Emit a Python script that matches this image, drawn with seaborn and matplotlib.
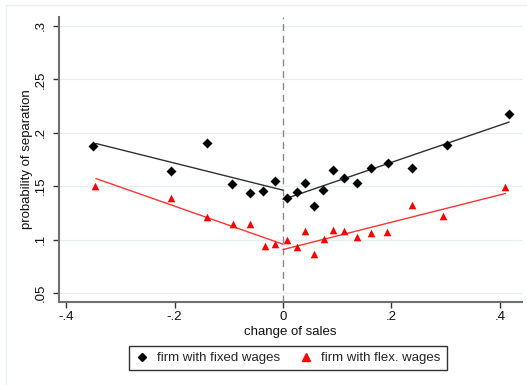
import numpy as np
import pandas as pd
import matplotlib
matplotlib.use("Agg")
import matplotlib.pyplot as plt
import seaborn as sns
from matplotlib.lines import Line2D

# ---- data ----
fixed_x = [-0.350, -0.207, -0.140, -0.094, -0.061, -0.036, -0.014, 0.007, 0.025, 0.041,
           0.058, 0.074, 0.093, 0.1125, 0.136, 0.163, 0.194, 0.237, 0.303, 0.417]
fixed_y = [0.188, 0.1643, 0.1905, 0.1516, 0.1437, 0.1453, 0.1553, 0.139, 0.1444, 0.1531,
           0.1313, 0.1469, 0.1656, 0.1575, 0.153, 0.1666, 0.172, 0.1666, 0.189, 0.2176]
flex_x = [-0.346, -0.207, -0.140, -0.092, -0.060, -0.034, -0.014, 0.007, 0.025, 0.041,
          0.058, 0.076, 0.093, 0.1125, 0.136, 0.162, 0.192, 0.237, 0.295, 0.410]
flex_y = [0.1503, 0.139, 0.1213, 0.1147, 0.115, 0.0941, 0.0963, 0.0994, 0.0935, 0.1079,
          0.0863, 0.101, 0.109, 0.1082, 0.1025, 0.1066, 0.1069, 0.132, 0.1222, 0.1494]

# fitted line segments (left and right of zero)
fixed_fit_left_x = [-0.345, 0.0]
fixed_fit_left_y = [0.190, 0.1463]
fixed_fit_right_x = [0.0, 0.417]
fixed_fit_right_y = [0.1375, 0.2101]
flex_fit_left_x = [-0.345, 0.0]
flex_fit_left_y = [0.1572, 0.0957]
flex_fit_right_x = [0.0, 0.410]
flex_fit_right_y = [0.0907, 0.1432]

x_ticks = [-0.4, -0.2, 0.0, 0.2, 0.4]
x_labels = ["-.4", "-.2", "0", ".2", ".4"]
y_ticks = [0.05, 0.1, 0.15, 0.2, 0.25, 0.3]
y_labels = [".05", ".1", ".15", ".2", ".25", ".3"]

sns.set_theme(style="white")
plt.rcParams["font.family"] = ["Liberation Sans", "DejaVu Sans"]

fig = plt.figure(figsize=(5.27, 3.85), dpi=100)
ax = fig.add_axes([59 / 527, 1 - 302 / 385, (522 - 59) / 527, (302 - 17) / 385])

axis_gray = "#707070"
grid_col = "#e6eff0"
fs = 9.5

for yt in y_ticks:
    ax.axhline(yt, color=grid_col, lw=0.9, zorder=0)
ax.axvline(0, color="#8a8a8a", lw=1.0, ls=(0, (5, 3.5)), zorder=1)

df_fixed = pd.DataFrame({"x": fixed_x, "y": fixed_y})
df_flex = pd.DataFrame({"x": flex_x, "y": flex_y})

sns.lineplot(x=fixed_fit_left_x, y=fixed_fit_left_y, color="#303030", lw=1.0, ax=ax, zorder=2)
sns.lineplot(x=fixed_fit_right_x, y=fixed_fit_right_y, color="#303030", lw=1.0, ax=ax, zorder=2)
sns.lineplot(x=flex_fit_left_x, y=flex_fit_left_y, color="#ff3333", lw=1.0, ax=ax, zorder=2)
sns.lineplot(x=flex_fit_right_x, y=flex_fit_right_y, color="#ff3333", lw=1.0, ax=ax, zorder=2)

sns.scatterplot(data=df_fixed, x="x", y="y", marker="D", s=26, color="black",
                edgecolor="black", linewidth=0, ax=ax, zorder=3)
sns.scatterplot(data=df_flex, x="x", y="y", marker="^", s=30, color="#ff0000",
                edgecolor="#ff0000", linewidth=0, ax=ax, zorder=3)

ax.set_xlim(-0.413, 0.4406)
ax.set_ylim(0.0416, 0.3084)
ax.set_xticks(x_ticks)
ax.set_xticklabels(x_labels)
ax.set_yticks(y_ticks)
ax.set_yticklabels(y_labels, rotation=90, va="center")

for side in ["top", "right"]:
    ax.spines[side].set_visible(False)
for side in ["left", "bottom"]:
    ax.spines[side].set_color(axis_gray)
    ax.spines[side].set_linewidth(1.5)

ax.tick_params(axis="both", which="major", length=4.5, width=1.0, color="#333333",
               labelsize=fs, labelcolor="#111111", direction="out")
ax.tick_params(axis="x", bottom=True, pad=2)
ax.tick_params(axis="y", left=True, pad=4.5)

ax.set_xlabel("change of sales", fontsize=fs, color="#111111", labelpad=2)
ax.set_ylabel("probability of separation", fontsize=fs, color="#111111", labelpad=1)
ax.grid(False)

handles = [
    Line2D([], [], marker="D", color="black", ls="none", markersize=4.5),
    Line2D([], [], marker="^", color="#ff0000", ls="none", markersize=5.5),
]
leg = fig.legend(handles, ["firm with fixed wages", "firm with flex. wages"],
                 loc="center", bbox_to_anchor=(288 / 527, 1 - 358 / 385), ncol=2,
                 fontsize=fs, frameon=True, fancybox=False, edgecolor="black",
                 handletextpad=0.65, columnspacing=1.45, borderpad=0.45, handlelength=1.0)
leg.get_frame().set_linewidth(1.0)

# light outer frame (top and left edges visible in crop)
fig.add_artist(Line2D([6 / 527, 1.0], [1 - 4.5 / 385, 1 - 4.5 / 385],
                      transform=fig.transFigure, color="#eaf1f1", lw=1.0))
fig.add_artist(Line2D([6 / 527, 6 / 527], [0, 1 - 4.5 / 385],
                      transform=fig.transFigure, color="#eaf1f1", lw=1.0))

fig.savefig("out.png", dpi=100)
